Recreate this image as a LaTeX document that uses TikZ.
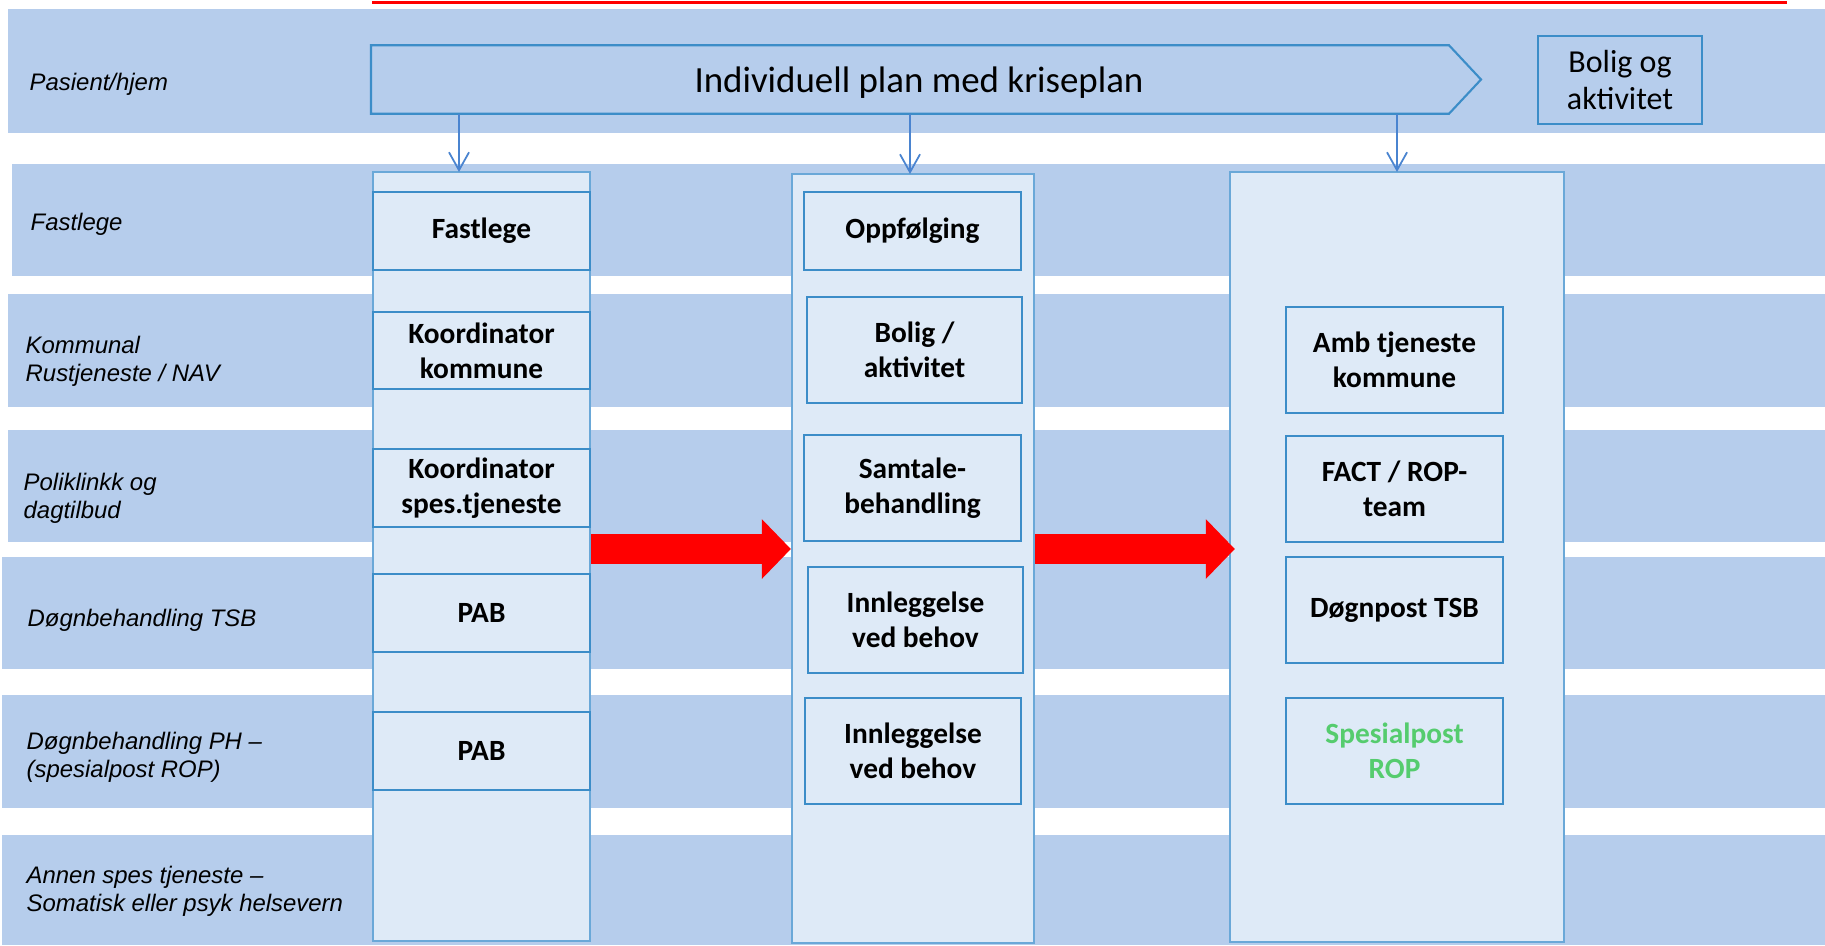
\documentclass[tikz,border=0pt]{standalone}
\usepackage{fontspec}
\setmainfont{Carlito}
\newfontfamily\labelfamily{Liberation Sans}
\usepackage{tikz}
\usetikzlibrary{arrows.meta, calc}

\definecolor{bandblue}{HTML}{B6CDEC}
\definecolor{colfill}{HTML}{DEEAF7}
\definecolor{colline}{HTML}{6AA8D8}
\definecolor{boxline}{HTML}{3C8DC8}
\definecolor{arrowblue}{HTML}{4A84D0}
\definecolor{ropgreen}{HTML}{55CC6E}

\newcommand{\rowlabelfont}{\labelfamily\itshape\fontsize{6.8}{8}\selectfont}
\newcommand{\cellfont}{\bfseries\fontsize{8.35}{10}\selectfont}
\newcommand{\planfont}{\fontsize{10.5}{12.6}\selectfont}

\tikzset{
  band/.style={fill=bandblue},
  rowlabel/.style={anchor=west, align=left, inner sep=0pt, font=\rowlabelfont},
  column/.style={draw=colline, fill=colfill, line width=0.6pt, inner sep=0pt},
  cell/.style={draw=boxline, line width=0.5pt, inner sep=0pt, align=center, font=\cellfont},
  planline/.style={draw=boxline, line width=0.6pt},
  down/.style={draw=arrowblue, line width=0.5pt, -{Straight Barb[length=5.1pt, width=5.7pt]}},
  flow/.style={red, line width=8.5pt, -{Triangle[length=8.25pt, width=16.5pt]}}
}

\begin{document}
\begin{tikzpicture}[x=0.01cm, y=-0.01cm]
    \useasboundingbox (0,0) rectangle (1825,945);
    \draw[red, line width=0.7pt] (372,2.5) -- (1787,2.5);

    % rows
    \fill[band] (8,9) rectangle (1825,133);
    \fill[band] (12,164) rectangle (1825,276);
    \fill[band] (8,294) rectangle (1825,407);
    \fill[band] (8,430) rectangle (1825,542);
    \fill[band] (2,557) rectangle (1825,669);
    \fill[band] (2,695) rectangle (1825,808);
    \fill[band] (2,835) rectangle (1825,945);

    \node[rowlabel] (pasient) at (29,84) {Pasient/hjem};
    \node[rowlabel] (fastlege) at (30,224) {Fastlege};
    \node[rowlabel] (kommunal) at (25,361) {Kommunal\\Rustjeneste / NAV};
    \node[rowlabel] (poli) at (23,498) {Poliklinkk og\\dagtilbud};
    \node[rowlabel] (tsb) at (27,620) {Døgnbehandling TSB};
    \node[rowlabel] (ph) at (26,757) {Døgnbehandling PH –\\(spesialpost ROP)};
    \node[rowlabel] (annen) at (26,891) {Annen spes tjeneste –\\Somatisk eller psyk helsevern};

    % plan
    \node[minimum width=10.76cm, minimum height=0.67cm, text depth=0pt, font=\planfont] (plan) at (910,79.5) {\hspace*{0.18cm}Individuell plan med kriseplan};
    \draw[planline] (plan.north west) -- (plan.north east) -- ($(plan.east)+(32,0)$) -- (plan.south east) -- (plan.south west) -- cycle;
    \node[draw=boxline, line width=0.5pt, minimum width=1.64cm, minimum height=0.88cm, align=center, inner sep=0pt,
          font=\fontsize{9.1}{10.5}\selectfont] (boligtop) at (1620,80) {Bolig og\\aktivitet};

    % columns
    \node[column, minimum width=2.17cm, minimum height=7.69cm] (col1) at (481.5,556.5) {};
    \node[column, minimum width=2.42cm, minimum height=7.69cm] (col2) at (913,558.5) {};
    \node[column, minimum width=3.34cm, minimum height=7.70cm] (col3) at (1397,557) {};

    \node[cell, minimum width=2.17cm, minimum height=0.78cm] (fast) at (481.5,231) {Fastlege};
    \node[cell, minimum width=2.17cm, minimum height=0.77cm] (kk) at (481.5,350.5) {Koordinator\\kommune};
    \node[cell, minimum width=2.17cm, minimum height=0.78cm] (ks) at (481.5,488) {Koordinator\\spes.tjeneste};
    \node[cell, minimum width=2.17cm, minimum height=0.78cm] (pab1) at (481.5,613) {PAB};
    \node[cell, minimum width=2.17cm, minimum height=0.78cm] (pab2) at (481.5,751) {PAB};

    \node[cell, minimum width=2.17cm, minimum height=0.78cm] (opp) at (912.5,231) {Oppfølging};
    \node[cell, minimum width=2.15cm, minimum height=1.06cm] (bolig) at (914.5,350) {Bolig /\\aktivitet};
    \node[cell, minimum width=2.17cm, minimum height=1.06cm] (samt) at (912.5,488) {Samtale-\\behandling};
    \node[cell, minimum width=2.15cm, minimum height=1.06cm] (inn1) at (915.5,620) {Innleggelse\\ved behov};
    \node[cell, minimum width=2.16cm, minimum height=1.06cm] (inn2) at (913,751) {Innleggelse\\ved behov};

    \node[cell, minimum width=2.17cm, minimum height=1.06cm] (amb) at (1394.5,360) {Amb tjeneste\\kommune};
    \node[cell, minimum width=2.17cm, minimum height=1.06cm] (fact) at (1394.5,489) {FACT / ROP-\\team};
    \node[cell, minimum width=2.17cm, minimum height=1.06cm] (dogn) at (1394.5,610) {Døgnpost TSB};
    \node[cell, minimum width=2.17cm, minimum height=1.06cm, text=ropgreen] (spes) at (1394.5,751) {Spesialpost\\ROP};

    % arrows
    \coordinate (a1) at (459,172);
    \coordinate (a2) at (910,174);
    \coordinate (a3) at (1397,172);
    \draw[down] (plan.south -| a1) -- (a1);
    \draw[down] (plan.south -| a2) -- (a2);
    \draw[down] (plan.south -| a3) -- (a3);

    \coordinate (mid) at (0,549);
    \draw[flow] (col1.east |- mid) -- (col2.west |- mid);
    \draw[flow] (col2.east |- mid) -- ($(col3.west |- mid)+(6,0)$);
\end{tikzpicture}
\end{document}
